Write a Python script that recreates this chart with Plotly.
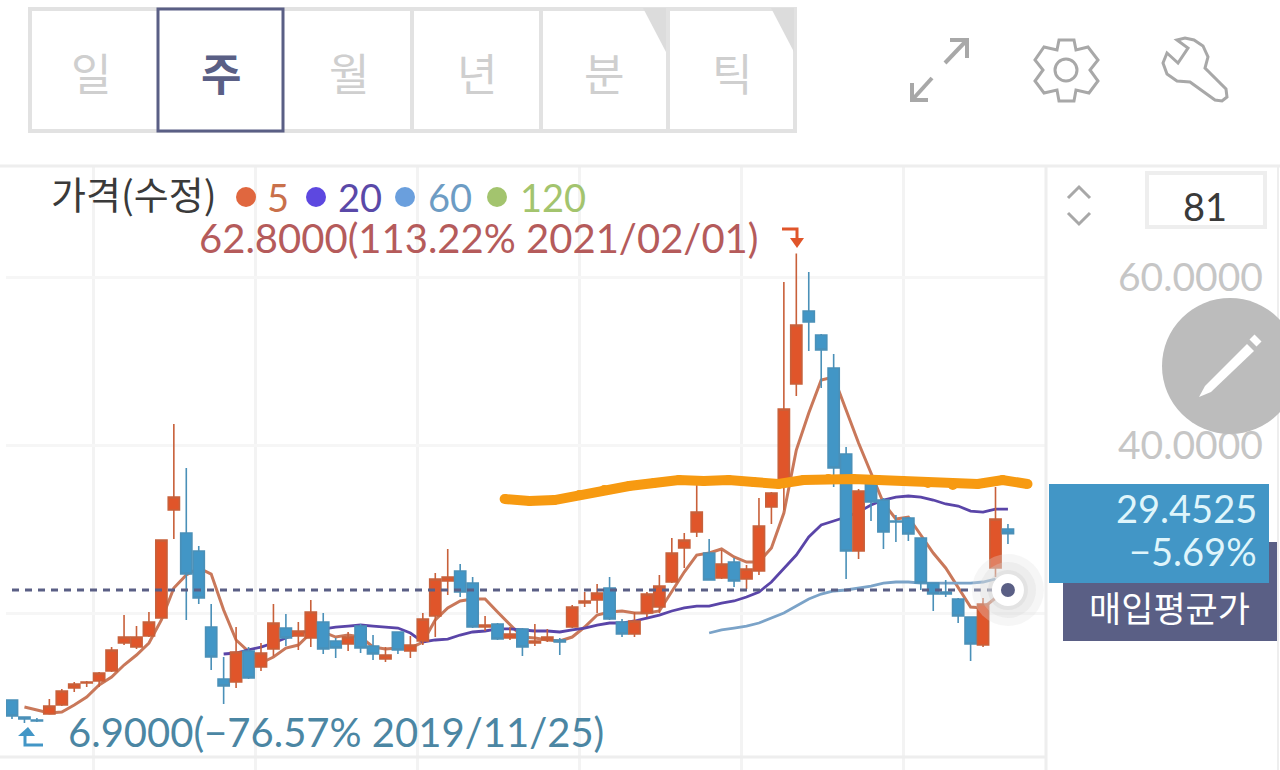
import pandas as pd
import plotly.graph_objects as go

W = 1280
H = 770

first_week = "2019-11-18"
opens = [9.64, 7.62, 7.26, 7.98, 9.05, 11.07, 11.67, 11.90, 13.10, 16.43, 15.95, 17.26, 19.40, 32.26, 29.52, 27.38, 18.33, 12.14, 11.79, 15.48, 13.57, 15.71, 18.21, 17.26, 17.02, 18.93, 16.67, 16.31, 18.45, 16.07, 14.52, 17.74, 15.48, 16.67, 19.64, 23.81, 25.00, 23.57, 18.33, 18.69, 17.02, 18.10, 16.43, 16.79, 16.79, 18.33, 21.19, 21.55, 22.98, 18.93, 17.50, 20.00, 20.71, 23.69, 27.74, 29.64, 27.14, 24.17, 26.07, 24.05, 25.00, 32.62, 35.60, 47.26, 55.95, 53.10, 49.17, 38.93, 27.38, 35.48, 33.45, 30.95, 31.31, 28.93, 23.57, 22.50, 21.67, 19.52, 16.19, 25.36, 30.00]
highs = [9.64, 7.62, 7.50, 9.76, 10.95, 11.79, 11.90, 12.98, 15.95, 19.76, 18.45, 20.12, 28.69, 42.50, 37.26, 27.98, 21.07, 14.76, 18.33, 15.95, 16.43, 21.07, 19.88, 18.93, 21.55, 20.00, 17.02, 17.74, 18.69, 17.38, 15.95, 17.74, 17.26, 20.00, 24.76, 27.62, 25.83, 24.29, 19.64, 18.81, 18.33, 18.21, 18.69, 18.10, 17.02, 20.95, 22.50, 23.45, 24.29, 19.29, 20.12, 22.50, 24.52, 28.93, 29.52, 35.48, 28.81, 27.50, 26.55, 25.71, 33.69, 34.40, 59.40, 62.80, 60.60, 53.21, 50.83, 39.76, 34.76, 35.60, 33.69, 31.67, 31.43, 28.93, 23.57, 23.93, 21.79, 19.52, 21.79, 35.00, 30.60]
lows = [7.38, 6.90, 7.02, 7.98, 8.93, 10.60, 11.19, 11.19, 12.98, 16.19, 15.71, 17.14, 19.40, 28.81, 19.17, 21.07, 13.21, 9.17, 11.07, 12.14, 13.10, 14.88, 16.07, 15.60, 15.95, 15.12, 14.64, 15.48, 15.24, 14.40, 14.17, 15.12, 14.64, 16.19, 17.14, 22.14, 21.90, 18.21, 17.86, 16.79, 16.79, 14.88, 16.07, 16.55, 15.00, 18.21, 20.71, 20.00, 19.17, 17.14, 17.14, 19.52, 20.00, 23.57, 25.36, 29.05, 23.93, 24.05, 23.10, 22.86, 24.52, 30.60, 32.26, 45.83, 51.19, 46.79, 35.00, 24.05, 26.43, 30.95, 27.62, 28.45, 28.57, 22.74, 20.24, 21.90, 18.81, 14.29, 15.95, 24.29, 28.21]
closes = [7.74, 7.38, 7.14, 8.93, 10.71, 11.55, 11.79, 12.86, 15.60, 17.14, 17.14, 18.93, 28.69, 33.81, 24.64, 21.79, 14.76, 11.31, 15.36, 12.26, 15.24, 18.81, 17.02, 17.86, 20.12, 15.71, 15.83, 17.14, 15.83, 15.12, 15.00, 15.60, 16.19, 19.29, 24.05, 24.29, 22.50, 18.33, 18.57, 16.90, 17.50, 15.95, 16.67, 17.14, 16.55, 20.71, 21.43, 22.38, 19.29, 17.50, 19.05, 22.26, 23.21, 27.14, 28.69, 32.02, 23.93, 25.83, 23.81, 25.24, 30.36, 34.29, 44.29, 54.29, 54.64, 51.31, 37.26, 27.38, 34.52, 33.21, 29.64, 30.83, 29.40, 23.57, 22.26, 22.26, 19.64, 16.31, 21.07, 31.19, 29.45]

# moving averages, each one starts later than the candles
ma5 = [8.81, 8.45, 8.10, 8.21, 9.05, 10.00, 11.43, 12.38, 13.81, 15.00, 16.43, 19.17, 22.98, 24.52, 25.36, 24.64, 20.36, 16.79, 15.36, 14.05, 14.76, 15.83, 16.19, 17.62, 17.74, 17.14, 17.38, 17.14, 15.95, 15.71, 15.83, 15.83, 16.55, 19.17, 20.60, 21.43, 21.67, 21.67, 20.12, 18.57, 17.14, 17.02, 16.79, 16.67, 17.14, 18.33, 19.76, 20.12, 20.24, 20.00, 20.00, 20.24, 22.50, 24.88, 26.90, 27.14, 27.62, 26.67, 26.07, 26.07, 27.74, 31.90, 39.40, 43.81, 47.74, 48.10, 44.17, 40.24, 36.67, 33.10, 31.19, 31.43, 29.29, 27.14, 25.36, 23.10, 20.71, 20.60, 21.79, 23.10]
ma20 = [15.12, 15.24, 15.60, 15.95, 16.43, 17.02, 17.62, 17.86, 18.10, 18.33, 18.45, 18.57, 18.45, 18.33, 18.21, 17.62, 16.55, 16.79, 16.90, 17.38, 17.74, 17.86, 18.10, 18.10, 17.98, 17.86, 17.86, 17.74, 17.98, 18.21, 18.57, 18.81, 18.81, 19.05, 19.40, 19.76, 20.24, 20.60, 20.83, 20.83, 21.19, 21.43, 21.90, 22.50, 23.69, 25.36, 26.90, 29.05, 30.48, 30.95, 31.43, 32.02, 32.86, 33.45, 33.81, 33.93, 33.81, 33.45, 32.98, 32.74, 32.14, 32.02, 32.38, 32.38]
ma60 = [17.62, 17.98, 18.21, 18.45, 18.81, 19.40, 20.00, 20.83, 21.67, 22.26, 22.62, 22.74, 22.98, 23.21, 23.57, 23.69, 23.69, 23.57, 23.57, 23.57, 23.57, 23.57, 23.69, 24.05]

# orange line drawn by hand on the screenshot
pen_start = "2020-08-21"
pen_values = [33.57, 33.33, 33.45, 34.05, 34.64, 35.12, 35.48, 35.83, 35.71, 35.83, 35.60, 35.36, 35.83, 35.95, 35.95, 35.83, 35.71, 35.48, 35.24, 35.36, 35.83, 35.36]

avg_price = 22.74
grid_dates = ["2020-01-03", "2020-04-03", "2020-07-03", "2020-10-02", "2021-01-01", "2021-04-02"]
price_ticks = [20, 40, 60]
price_labels = ["", "40.0000", "60.0000"]
tab_labels = ["일", "주", "월", "년", "분", "틱"]
legend_items = ["5", "20", "60", "120"]

RED = "#e0552a"
RED_LINE = "#c8603a"
BLUE = "#4296c6"
BLUE_LINE = "#4a90b8"
NAVY = "#5a5f85"
GRAY_LINE = "#e2e2e2"
BORDER = "#eeeeee"
ICON = "#a8a8a8"
KR = "Noto Sans CJK KR"
NUM = "Lato"


def px(x):
    return x / W


def py(y):
    return 1 - y / H


def text(x, y, s, size, color, anchor="center", family=NUM):
    return dict(
        x=px(x), y=py(y), xref="paper", yref="paper", text=s, showarrow=False,
        xanchor=anchor, yanchor="middle", font=dict(size=size, color=color, family=family),
    )


def line(x0, y0, x1, y1, color=BORDER, width=3):
    return dict(
        type="line", xref="paper", yref="paper", x0=px(x0), y0=py(y0), x1=px(x1), y1=py(y1),
        line=dict(color=color, width=width),
    )


def rect(x0, y0, x1, y1, fill="rgba(0,0,0,0)", color=None, width=0):
    return dict(
        type="rect", xref="paper", yref="paper", x0=px(x0), y0=py(y0), x1=px(x1), y1=py(y1),
        fillcolor=fill, line=dict(color=color, width=width),
    )


def circle(cx, cy, r, fill, color=None, width=0):
    return dict(
        type="circle", xref="paper", yref="paper", x0=px(cx - r), y0=py(cy - r), x1=px(cx + r), y1=py(cy + r),
        fillcolor=fill, line=dict(color=color, width=width),
    )


def poly(points, fill="rgba(0,0,0,0)", color=None, width=0, close=True):
    path = "M " + " L ".join(f"{px(x):.5f},{py(y):.5f}" for x, y in points)
    if close:
        path += " Z"
    return dict(
        type="path", xref="paper", yref="paper", path=path,
        fillcolor=fill, line=dict(color=color, width=width),
    )


dates = pd.date_range(first_week, periods=len(opens), freq="7D")
pen_dates = pd.date_range(pen_start, periods=len(pen_values), freq="14D")

fig = go.Figure()

# moving averages sit under the candles, so they go on the first axes
fig.add_trace(go.Scatter(x=dates[1:], y=ma5, mode="lines", line=dict(color="#c9785a", width=3), name="5"))
fig.add_trace(go.Scatter(x=dates[17:], y=ma20, mode="lines", line=dict(color="#5a45a8", width=2.8), name="20"))
fig.add_trace(go.Scatter(x=dates[56:80], y=ma60, mode="lines", line=dict(color="#7ba3c8", width=2.8), name="60"))

fig.add_trace(
    go.Candlestick(
        x=dates, open=opens, high=highs, low=lows, close=closes,
        xaxis="x2", yaxis="y2", whiskerwidth=0,
        increasing=dict(fillcolor=RED, line=dict(color=RED_LINE, width=1.6)),
        decreasing=dict(fillcolor=BLUE, line=dict(color=BLUE_LINE, width=1.6)),
    )
)

fig.add_trace(
    go.Scatter(
        x=[dates[0], dates[-1]], y=[avg_price, avg_price], mode="lines", xaxis="x3", yaxis="y3",
        line=dict(color=NAVY, width=3, dash="7px,6px"),
    )
)
fig.add_trace(
    go.Scatter(
        x=pen_dates, y=pen_values, mode="lines+markers", xaxis="x3", yaxis="y3",
        line=dict(color="#f79a11", width=10), marker=dict(color="#f79a11", size=10),
    )
)
# current average price dot with its halo
for size, color in [
    (72, "rgba(225,225,225,0.3)"),
    (56, "rgba(215,215,215,0.3)"),
    (40, "rgba(205,205,205,0.3)"),
    (32, "#ffffff"),
    (14, NAVY),
]:
    fig.add_trace(
        go.Scatter(
            x=[dates[-1]], y=[avg_price], mode="markers", xaxis="x3", yaxis="y3",
            marker=dict(size=size, color=color, line=dict(width=0)),
        )
    )

shapes = [
    line(0, 166, W, 166),
    line(0, 757, 1046, 757),
    line(1046, 166, 1046, H),
    line(1278, 166, 1278, H, width=2),
]

# period tabs
shapes.append(rect(30, 9, 795, 131, fill="#ffffff", color=GRAY_LINE, width=4))
for x in [412, 541, 668]:
    shapes.append(line(x, 9, x, 131, GRAY_LINE, 4))
shapes.append(poly([(643, 8), (666, 8), (666, 52)], fill="#dcdcdc"))
shapes.append(poly([(771, 8), (794, 8), (794, 52)], fill="#dcdcdc"))
shapes.append(rect(158, 9, 283, 131, fill="#ffffff", color=NAVY, width=3))

# expand, settings and wrench icons
shapes += [
    line(945, 63, 966, 41, ICON, 4),
    poly([(950, 40), (967, 40), (967, 58)], color=ICON, width=4, close=False),
    line(932, 78, 913, 99, ICON, 4),
    poly([(912, 83), (912, 100), (928, 100)], color=ICON, width=4, close=False),
    poly(
        [(1059, 40), (1074, 40), (1076, 50), (1088, 47), (1098, 60), (1090, 70), (1098, 81), (1089, 93),
         (1076, 90), (1074, 101), (1059, 101), (1057, 90), (1044, 93), (1035, 81), (1043, 70), (1035, 60),
         (1044, 47), (1057, 50)],
        color=ICON, width=3,
    ),
    circle(1066, 70, 11, "rgba(0,0,0,0)", ICON, 3),
    poly(
        [(1177, 40), (1188, 48), (1178, 63), (1167, 53), (1163, 63), (1167, 74), (1177, 81), (1190, 82),
         (1215, 100), (1222, 101), (1227, 97), (1226, 89), (1205, 68), (1208, 57), (1203, 46), (1194, 40),
         (1185, 38)],
        color=ICON, width=3,
    ),
]

# right hand panel
shapes += [
    rect(1147, 173, 1265, 227, color="#eeeeee", width=4),
    poly([(1068, 198), (1079, 187), (1090, 198)], color=ICON, width=3, close=False),
    poly([(1068, 213), (1079, 224), (1090, 213)], color=ICON, width=3, close=False),
    circle(1230, 366, 68, "#bcbcbc"),
    poly([(1199, 397), (1205, 386), (1247, 344), (1254, 351), (1211, 392)], fill="#ffffff"),
    line(1252, 337, 1259, 344, "#ffffff", 7),
    rect(1063, 542, 1277, 641, fill=NAVY),
    rect(1049, 484, 1269, 583, fill=BLUE),
]

# high and low markers
shapes += [
    poly([(782, 229), (797, 229), (797, 238)], color=RED, width=3, close=False),
    poly([(790, 238), (804, 238), (797, 248)], fill=RED),
    poly([(28, 727), (18, 736), (35, 736)], fill=BLUE),
    poly([(25, 736), (25, 745), (43, 745)], color=BLUE, width=3, close=False),
]

# legend dots
legend_dots = [(246, "#e0673f"), (316, "#5d48e0"), (405, "#6a9fdd"), (497, "#a3c46e")]
for x, color in legend_dots:
    shapes.append(circle(x, 197, 10, color))

annotations = []
for x, label in zip([91, 221, 349, 477, 604, 732], tab_labels):
    selected = label == "주"
    annotations.append(
        text(x, 72, f"<b>{label}</b>" if selected else label, 44, NAVY if selected else "#cfcfcf", family=KR)
    )

annotations += [
    text(49, 193, "가격(수정)", 38, "#3a3a3a", "left", KR),
    text(278, 197, legend_items[0], 38, "#c9704a"),
    text(360, 197, legend_items[1], 38, "#5a49a8"),
    text(450, 197, legend_items[2], 38, "#6d9cc4"),
    text(553, 197, legend_items[3], 38, "#a3c46e"),
    text(197, 238, "62.8000(113.22% 2021/02/01)", 40, "#b55b5b", "left"),
    text(66, 732, "6.9000(−76.57% 2019/11/25)", 40, "#4b86a3", "left"),
    text(1205, 206, "81", 38, "#3a3a3a"),
    text(1259, 508, "29.4525", 38, "#dff5fb", "right"),
    text(1259, 551, "−5.69%", 38, "#dff5fb", "right"),
    text(1169, 606, "매입평균가", 35, "#ffffff", family=KR),
]

x_range = ["2019-11-14 15:00", "2021-06-21 09:30"]
y_range = [1.31, 73.1]
domain_x = [px(6), px(1046)]
domain_y = [0, py(167)]
hidden_axis = dict(range=x_range, domain=domain_x, visible=False, type="date")
hidden_y = dict(range=y_range, domain=domain_y, visible=False)

fig.update_layout(
    width=W,
    height=H,
    margin=dict(l=0, r=0, t=0, b=0),
    paper_bgcolor="#ffffff",
    plot_bgcolor="#ffffff",
    showlegend=False,
    hovermode=False,
    boxmode="overlay",
    boxgap=0.1,
    boxgroupgap=0,
    xaxis=dict(
        type="date", range=x_range, domain=domain_x, tickmode="array", tickvals=grid_dates,
        showticklabels=False, ticks="", showgrid=True, gridcolor="#f3f3f3", gridwidth=3,
        zeroline=False, showline=False, rangeslider=dict(visible=False),
    ),
    yaxis=dict(
        range=y_range, domain=domain_y, side="right", tickmode="array", tickvals=price_ticks,
        ticktext=price_labels, tickfont=dict(size=39, color="#c6c6c6", family=NUM), ticks="",
        ticklabelstandoff=71, showgrid=True, gridcolor="#f6f6f6", gridwidth=3, zeroline=False, showline=False,
    ),
    xaxis2=dict(hidden_axis, overlaying="x", anchor="y2", rangeslider=dict(visible=False)),
    yaxis2=dict(hidden_y, overlaying="y", anchor="x2"),
    xaxis3=dict(hidden_axis, overlaying="x", anchor="y3"),
    yaxis3=dict(hidden_y, overlaying="y", anchor="x3"),
    shapes=shapes,
    annotations=annotations,
)

fig.write_html(
    "out.html",
    config=dict(displayModeBar=False),
    post_script="document.body.style.margin='0';document.body.style.overflow='hidden';",
)
